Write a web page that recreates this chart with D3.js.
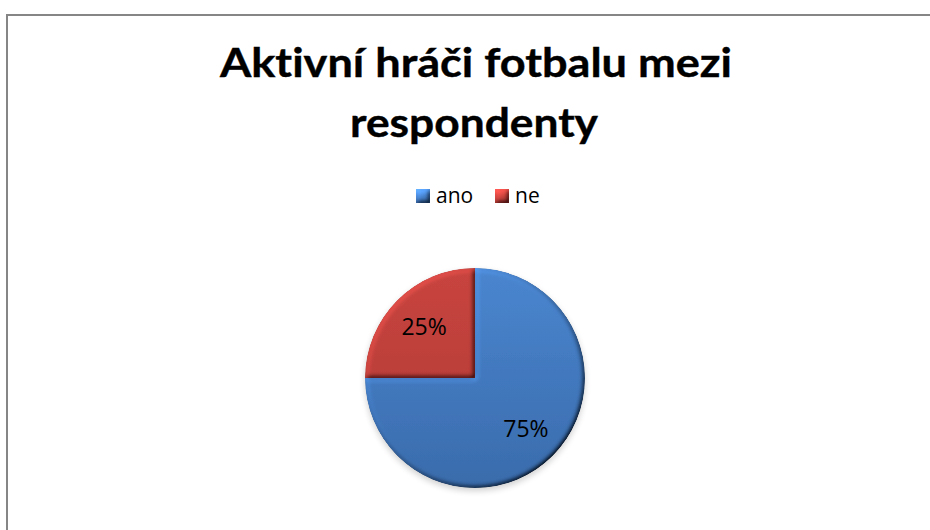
<!DOCTYPE html>
<html>
<head>
<meta charset="utf-8">
<script src="https://cdn.jsdelivr.net/npm/d3@7"></script>
<style>
  html, body { margin: 0; padding: 0; background: #fff; }
  svg { display: block; }
  text { font-variant-ligatures: none; font-feature-settings: "liga" 0, "clig" 0; }
</style>
</head>
<body>
<svg id="chart" width="930" height="530"></svg>
<script>
// Survey answers: are the respondents active football players?
const titleLines = ["Aktivní hráči fotbalu mezi", "respondenty"];
const categories = ["ano", "ne"];
const values = [75, 25];
const sliceColors = ["#4A86D0", "#C8443F"];
const sliceColorsDark = ["#3A6CAC", "#B23A36"];

const W = 930, H = 530;
const svg = d3.select("#chart");
const defs = svg.append("defs");

svg.append("rect").attr("width", W).attr("height", H).attr("fill", "#fff");

// chart area frame
svg.append("rect")
  .attr("x", 7).attr("y", 15)
  .attr("width", 1000).attr("height", 1000)
  .attr("fill", "none")
  .attr("stroke", "#868686")
  .attr("stroke-width", 2);

// title, two centred lines, sized to the intended widths
const titleFont = "Lato, 'Open Sans', sans-serif";
const titleSpecs = [
  { text: titleLines[0], x: 476, y: 77, width: 512 },
  { text: titleLines[1], x: 474, y: 137, width: 248 }
];
svg.append("g").selectAll("text")
  .data(titleSpecs).join("text")
  .attr("x", d => d.x).attr("y", d => d.y)
  .attr("text-anchor", "middle")
  .attr("font-family", titleFont)
  .attr("font-weight", "bold")
  .attr("font-size", 40)
  .attr("fill", "#000")
  .attr("stroke", "#000")
  .attr("stroke-width", 0.4)
  .attr("textLength", d => d.width)
  .attr("lengthAdjust", "spacingAndGlyphs")
  .text(d => d.text);

// bevel lighting filter (light from the upper left)
const bevel = defs.append("filter").attr("id", "bevel")
  .attr("x", "-10%").attr("y", "-10%").attr("width", "120%").attr("height", "120%");
bevel.append("feGaussianBlur").attr("in", "SourceAlpha").attr("stdDeviation", 2.8).attr("result", "blur");
const light = bevel.append("feDiffuseLighting")
  .attr("in", "blur").attr("surfaceScale", 3.5).attr("diffuseConstant", 1)
  .attr("lighting-color", "#ffffff").attr("result", "light");
light.append("feDistantLight").attr("azimuth", 225).attr("elevation", 50);
bevel.append("feComposite").attr("in", "SourceGraphic").attr("in2", "light")
  .attr("operator", "arithmetic").attr("k1", 1.3).attr("k2", 0).attr("k3", 0).attr("k4", 0)
  .attr("result", "lit");
bevel.append("feComposite").attr("in", "lit").attr("in2", "SourceAlpha").attr("operator", "in");

// vertical shading for each slice colour
categories.forEach((c, i) => {
  const g = defs.append("linearGradient").attr("id", "grad" + i)
    .attr("gradientUnits", "userSpaceOnUse")
    .attr("x1", 0).attr("y1", -110).attr("x2", 0).attr("y2", 110);
  g.append("stop").attr("offset", "0%").attr("stop-color", sliceColors[i]);
  g.append("stop").attr("offset", "100%").attr("stop-color", sliceColorsDark[i]);
  const lg = defs.append("linearGradient").attr("id", "lgrad" + i)
    .attr("x1", 0).attr("y1", 0).attr("x2", 0).attr("y2", 1);
  lg.append("stop").attr("offset", "0%").attr("stop-color", d3.color(sliceColors[i]).brighter(0.5));
  lg.append("stop").attr("offset", "100%").attr("stop-color", sliceColorsDark[i]);
});

// legend
const legendFont = "'Open Sans', Lato, sans-serif";
const legendX = [416, 495];
const legend = svg.append("g");
const items = legend.selectAll("g").data(categories).join("g")
  .attr("transform", (d, i) => `translate(${legendX[i]},189)`);
items.append("rect")
  .attr("width", 14).attr("height", 14)
  .attr("fill", (d, i) => `url(#lgrad${i})`)
  .attr("filter", "url(#bevel)");
items.append("text")
  .attr("x", 20).attr("y", 14)
  .attr("font-family", legendFont)
  .attr("font-size", 21)
  .attr("fill", "#000")
  .text(d => d);

// pie
const cx = 475, cy = 378, R = 110;
const pie = d3.pie().sort(null).value(d => d.value);
const arcs = pie(categories.map((c, i) => ({ name: c, value: values[i], idx: i })));
const arc = d3.arc().innerRadius(0).outerRadius(R);
const labelArc = d3.arc().innerRadius(72).outerRadius(72);
const total = d3.sum(values);

const pieG = svg.append("g").attr("transform", `translate(${cx},${cy})`);

// soft shadow below the disc
const shadow = defs.append("filter").attr("id", "shadow")
  .attr("x", "-20%").attr("y", "-20%").attr("width", "140%").attr("height", "140%");
shadow.append("feGaussianBlur").attr("stdDeviation", 3);
pieG.append("circle").attr("r", R).attr("cy", 3)
  .attr("fill", "#000").attr("opacity", 0.18).attr("filter", "url(#shadow)");

pieG.selectAll("path.slice").data(arcs).join("path")
  .attr("class", "slice")
  .attr("d", arc)
  .attr("fill", d => `url(#grad${d.data.idx})`)
  .attr("filter", "url(#bevel)");

// percentage labels
pieG.selectAll("text.lbl").data(arcs).join("text")
  .attr("class", "lbl")
  .attr("x", d => labelArc.centroid(d)[0])
  .attr("y", d => labelArc.centroid(d)[1])
  .attr("dy", "0.35em")
  .attr("text-anchor", "middle")
  .attr("font-family", legendFont)
  .attr("font-size", 23)
  .attr("fill", "#000")
  .text(d => Math.round(d.data.value / total * 100) + "%");
</script>
</body>
</html>
